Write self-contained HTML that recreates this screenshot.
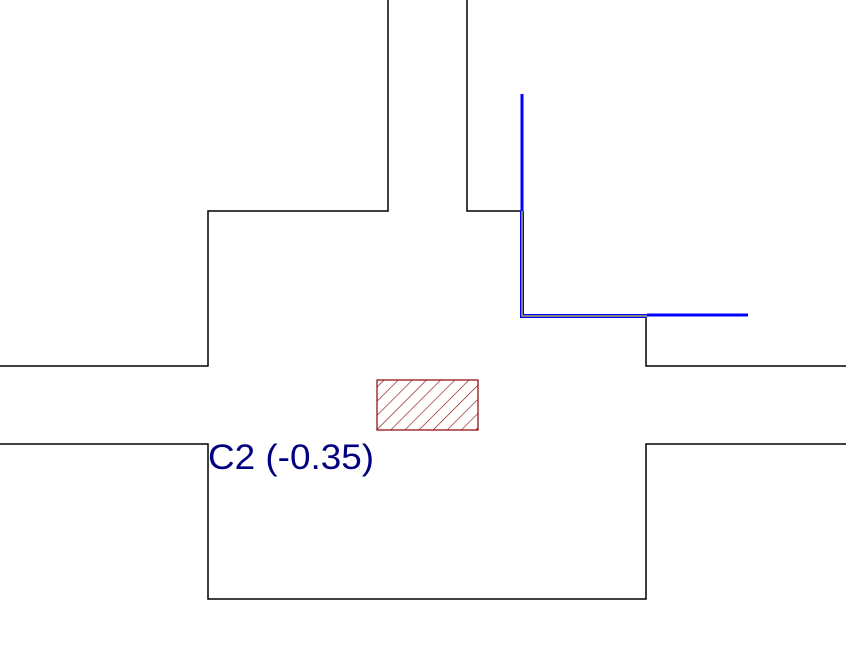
<!DOCTYPE html>
<html><head><style>html,body{margin:0;padding:0;background:#fff;width:846px;height:668px;overflow:hidden}</style></head>
<body>
<svg width="846" height="668" xmlns="http://www.w3.org/2000/svg">
<defs>
<pattern id="h" patternUnits="userSpaceOnUse" width="10" height="10" patternTransform="rotate(45)">
<line x1="0" y1="0" x2="0" y2="10" stroke="#8b0000" stroke-width="1.2"/>
</pattern>
</defs>
<g stroke="#000" stroke-width="1.5" fill="none">
<path d="M388 0V211H208V366H0"/>
<path d="M467 0V211H522"/>
<path d="M0 444H208V599H646V444H846"/>
<path d="M846 366H646V316"/>
</g>
<path d="M522 94V211" stroke="#00f" stroke-width="3"/>
<path d="M522 211V316H647" stroke="#00f" stroke-width="4" fill="none"/>
<path d="M522 211V316H647" stroke="#ff0" stroke-width="1" fill="none"/>
<path d="M647 315H748" stroke="#00f" stroke-width="3"/>
<rect x="377" y="380" width="101" height="50" fill="url(#h)" stroke="#8b0000" stroke-width="1.2"/>
<text x="208" y="469" font-family="Liberation Sans, sans-serif" font-size="35" fill="#000080" textLength="166" lengthAdjust="spacingAndGlyphs">C2 (-0.35)</text>
</svg>
</body></html>
